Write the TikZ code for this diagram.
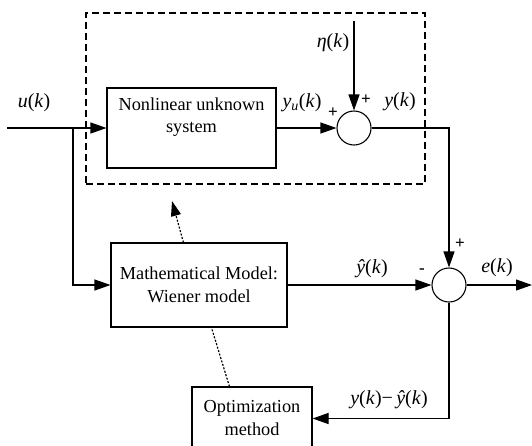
\documentclass[tikz,border=0pt]{standalone}
\usepackage{fontspec}
\setmainfont{Liberation Serif}
\usetikzlibrary{arrows.meta,calc}
\begin{document}
\begin{tikzpicture}[x=1pt,y=-1pt, line width=1.1pt,
  blk/.style={draw, rectangle, inner sep=0pt, align=center, font=\fontsize{18.3}{23}\selectfont},
  sumc/.style={draw, circle, minimum size=34pt, inner sep=0pt},
  arr/.style={-{Triangle[length=16pt,width=11pt]}},
  lbl/.style={inner sep=0pt, font=\fontsize{20}{24}\selectfont},
  sgn/.style={inner sep=0pt, font=\bfseries\fontsize{17}{17}\selectfont},
  dotln/.style={line width=1.2pt, dash pattern=on 2pt off 1.6pt},
 ]
\useasboundingbox (0,0) rectangle (532,445);
\clip (0,0) rectangle (532,445);
% dashed system boundary
\node[draw, dash pattern=on 7pt off 4pt, minimum width=339pt, minimum height=171pt, inner sep=0pt] (sysbox) at (255.5,98.5) {};
% blocks
\node[blk, minimum width=169pt, minimum height=80pt] (nl) at (191.5,128) {Nonlinear unknown\\[-1pt]system\\[2pt]};
\node[blk, minimum width=176pt, minimum height=84pt] (model) at (199,285) {Mathematical Model:\\Wiener model};
\node[blk, minimum width=120pt, minimum height=63pt] (opt) at (252,418.5) {Optimization\\method};
\node[sumc] (s1) at (354,128) {};
\node[sumc] (s2) at (449,285) {};
% coordinates
\coordinate (in) at (7,128);
\coordinate (br) at (73,128);
\coordinate (eta) at (354,21);
\coordinate (eout) at (532,285);
\coordinate (adjtip) at (172,201);
% connectors
\draw[arr] (in) -- (nl.west);
\draw[arr] (br) |- (model.west);
\draw[arr] (eta) -- (s1.north);
\draw[arr] (nl.east) -- (s1.west);
\draw[arr] (s1.east) -| (s2.north);
\draw[arr] (model.east) -- (s2.west);
\draw[arr] (s2.east) -- (eout);
\draw[arr] (s2.south) |- (opt.east);
\draw[dotln] ($(opt.north west)+(38,0)$) -- ($(model.south west)+(101,0)$);
\draw[dotln, -{Triangle[length=15pt,width=10pt]}] ($(model.north west)+(73,0)$) -- (adjtip);
% labels
\node[lbl] (lu) at (34,103) {\textit{u}(\textit{k})};
\node[lbl] (leta) at (333,43) {\textit{η}(\textit{k})};
\node[lbl] (lyu) at (302,103) {\textit{y}\textsubscript{\textit{u}}(\textit{k})};
\node[lbl] (ly) at (400,102) {\textit{y}(\textit{k})};
\node[lbl] (lyh) at (372,269) {\textit{ŷ}(\textit{k})};
\node[lbl] (le) at (497,268) {\textit{e}(\textit{k})};
\node[lbl] (lerr) at (389,400) {\textit{y}(\textit{k})−\,\textit{ŷ}(\textit{k})};
\node[sgn] (p1) at (333,113) {+};
\node[sgn] (p2) at (366,100) {+};
\node[sgn] (p3) at (460,244) {+};
\node[sgn] (m1) at (422,271) {-};
\end{tikzpicture}
\end{document}
